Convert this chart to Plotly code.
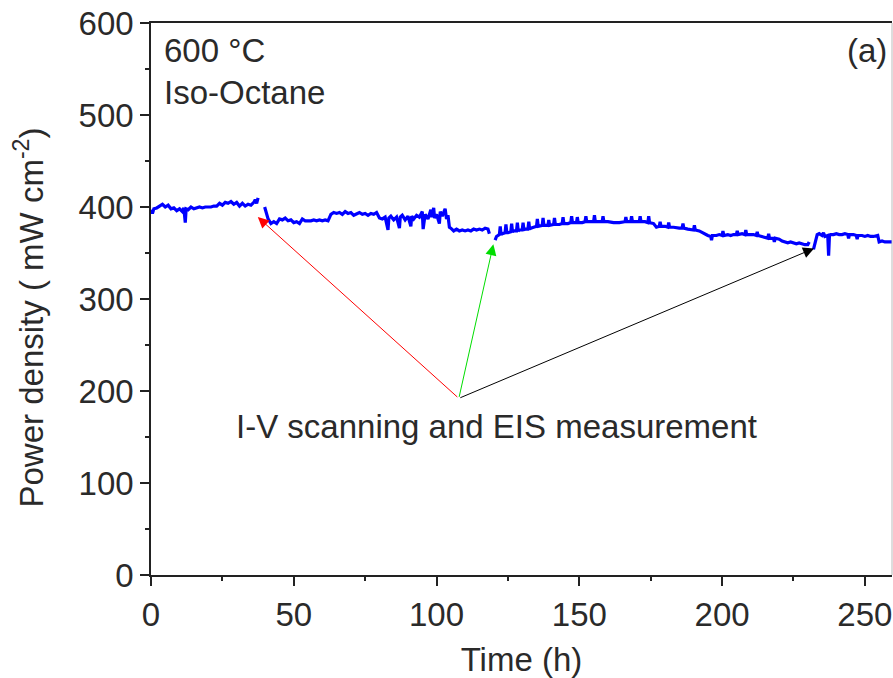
import plotly.graph_objects as go

# ---- data ----
time_h = [
    0, 0.5, 1, 2, 3, 4, 5, 6, 7, 8, 9, 10, 11, 11.5, 12, 12.3, 13, 14, 15, 16, 17, 18, 19, 20,
    21, 22, 23, 24, 25, 26, 27, 28, 29, 30, 31, 32, 33, 34, 35, 36, 36.5, 37, 37.5,
    None,
    39.8, 40.3, 41, 42, 43, 44, 45, 46, 47, 48, 49, 50, 51, 52, 53, 54, 55, 56, 57, 58, 59, 60,
    61, 62, 63, 64, 65, 66, 67, 68, 69, 70, 71, 72, 73, 74, 75, 76, 77, 78, 79, 80, 81, 82,
    83, 83.3, 84, 85, 86, 87, 87.3, 88, 89, 90, 91, 91.3, 92, 93, 94, 95, 95.3, 96, 97, 98, 98.3,
    99, 99.3, 100, 101, 101.3, 102, 103, 103.5, 104, 104.5, 105, 106, 107, 108, 109, 110, 111,
    112, 113, 114, 115, 116, 117, 118, 118.5,
    None,
    120.5, 121, 122, 122.3, 122.6, 123, 124, 124.3, 124.6, 125, 126, 126.3, 126.6, 127, 128,
    128.3, 128.6, 129, 130, 130.3, 130.6, 131, 132, 132.3, 132.6, 133, 134,
    135, 135.3, 135.6, 137, 137.3, 137.6, 139, 139.3, 139.6, 141, 141.3, 141.6, 143, 144, 144.3,
    144.6, 146, 147, 147.3, 147.6, 149, 149.3, 149.6, 151, 152, 152.3, 152.6,
    154, 155, 155.3, 155.6, 157, 158, 158.3, 158.6, 160, 162, 164, 166, 166.3, 166.6, 168, 168.3,
    168.6, 170, 171, 171.3, 171.6, 173, 174, 174.3, 174.6, 176,
    177, 178, 178.3, 178.6, 180, 181, 181.3, 181.6, 183, 185, 186, 186.3, 186.6, 188, 190, 190.3,
    190.6, 192, 193, 194,
    195, 196, 196.3, 196.6, 198, 199, 200, 200.3, 200.6, 202, 203, 204, 205, 205.3, 205.6, 207,
    208, 208.3, 208.6, 210, 211, 212, 212.3, 212.6, 214, 215, 216, 216.3, 216.6, 218, 218.3, 218.6,
    220, 221,
    222, 223, 224, 225, 226, 227, 228, 229, 230, 230.5,
    None,
    232, 232.5, 233.3, 234, 235, 235.5, 236, 237, 237.3, 237.6, 238, 239, 240, 241, 242, 243, 244,
    244.3, 244.6, 246, 247, 247.3, 247.6, 249, 250, 251, 252, 253, 254, 254.5, 255, 256, 257, 258,
    259.5,
]
power_density = [
    397, 393, 398, 399, 401, 403, 400, 402, 398, 399, 396, 398, 395, 399, 383, 398, 397, 400, 398,
    399, 400, 399, 400, 400, 400, 401, 401, 404, 402, 405, 404, 406, 403, 405, 401, 404, 401, 403,
    402, 405, 408, 404, 410,
    None,
    400, 395, 387, 382, 384, 382, 387, 386, 388, 385, 386, 383, 384, 382, 387, 385, 385, 385, 386,
    385, 386, 385, 386, 385, 392, 394, 393, 394, 392, 395, 393, 394, 391, 393, 394, 392, 393, 391,
    393, 392, 394, 388, 387, 389,
    375, 388, 390, 386, 389, 377, 389, 391, 386, 390, 379, 390, 387, 391, 389, 395, 376, 392, 387,
    397, 389, 399, 388, 392, 382, 395, 390, 398, 387, 391, 378, 377, 374, 376, 374, 375, 374, 375,
    374, 376, 375, 376, 375, 377, 376, 371,
    None,
    364, 368, 370, 379, 370, 371, 372, 381, 372, 372, 373, 382, 373, 374, 374, 383, 374, 375, 375,
    383, 375, 376, 376, 384, 376, 377, 378,
    379, 387, 379, 380, 388, 380, 380, 386, 380, 381, 388, 381, 381, 382, 389, 382, 382, 383, 390,
    383, 383, 389, 383, 383, 384, 390, 384,
    384, 384, 391, 384, 384, 384, 390, 384, 384, 383, 383, 384, 389, 384, 384, 390, 384, 384, 384,
    390, 384, 384, 383, 390, 383, 382,
    378, 379, 384, 379, 379, 378, 383, 378, 378, 377, 377, 382, 377, 376, 375, 380, 375, 374, 372,
    371,
    369, 368, 364, 369, 369, 370, 369, 374, 369, 370, 369, 370, 370, 374, 370, 371, 370, 375, 370,
    370, 370, 369, 373, 369, 368, 367, 366, 371, 366, 366, 362, 366, 365, 363,
    362, 361, 362, 361, 360, 361, 360, 359, 359, 362,
    None,
    354, 360, 370, 371, 369, 372, 368, 369, 347, 369, 370, 370, 371, 370, 370, 371, 370, 366, 370,
    370, 369, 365, 369, 369, 368, 369, 368, 368, 369, 369, 362, 363, 362, 362, 362,
]

# arrows: common tail and three tips (Time h, Power density)
arrow_tail = (107.8, 192)
arrow_tips_x = [37.4, 119.9, 232.2]
arrow_tips_y = [389, 359.5, 355]
arrow_colors = ["#ff0000", "#00dd00", "#000000"]

x_ticks = [0, 50, 100, 150, 200, 250]
y_ticks = [0, 100, 200, 300, 400, 500, 600]

FONT = "Liberation Sans, Arial, sans-serif"
FS = 33
TXT = "#2a2a2a"

fig = go.Figure()
fig.add_trace(go.Scatter(
    x=time_h, y=power_density, mode="lines",
    line=dict(color="#0000ff", width=3.2),
    connectgaps=False, showlegend=False, hoverinfo="skip",
))

annotations = []
for tx, ty, col in zip(arrow_tips_x, arrow_tips_y, arrow_colors):
    annotations.append(dict(
        x=tx, y=ty, ax=arrow_tail[0], ay=arrow_tail[1],
        xref="x", yref="y", axref="x", ayref="y",
        text="", showarrow=True, arrowhead=2, arrowsize=2.2, arrowwidth=1,
        arrowcolor=col, standoff=0, startstandoff=0,
    ))

annotations += [
    dict(text="600 °C", x=0.0145, y=0.951, xref="paper", yref="paper",
         xanchor="left", yanchor="middle", showarrow=False,
         font=dict(family=FONT, size=FS, color=TXT)),
    dict(text="Iso-Octane", x=0.0145, y=0.874, xref="paper", yref="paper",
         xanchor="left", yanchor="middle", showarrow=False,
         font=dict(family=FONT, size=FS, color=TXT)),
    dict(text="(a)", x=0.996, y=0.951, xref="paper", yref="paper",
         xanchor="right", yanchor="middle", showarrow=False,
         font=dict(family=FONT, size=FS, color=TXT)),
    dict(text="I-V scanning and EIS measurement", x=0.466, y=0.269, xref="paper", yref="paper",
         xanchor="center", yanchor="middle", showarrow=False,
         font=dict(family=FONT, size=FS, color=TXT)),
    dict(text="Power density ( mW cm<sup>-2</sup>)", x=-0.165, y=0.466,
         xref="paper", yref="paper", xanchor="center", yanchor="middle",
         textangle=-90, showarrow=False,
         font=dict(family=FONT, size=FS, color=TXT)),
]

fig.update_layout(
    width=893, height=678,
    margin=dict(l=151, r=1, t=23, b=103),
    paper_bgcolor="white", plot_bgcolor="white",
    font=dict(family=FONT, size=FS, color=TXT),
    annotations=annotations,
    shapes=[dict(type="line", xref="paper", yref="paper", x0=1, x1=1, y0=0, y1=1,
                 line=dict(color="#bbbbbb", width=1))],
)
fig.update_xaxes(
    range=[0, 259.5], tickvals=x_ticks, ticks="outside", ticklen=9, tickwidth=1.5,
    tickcolor="#222", showline=True, linecolor="#222", linewidth=1.5, mirror=True,
    showgrid=False, zeroline=False, ticklabelstandoff=1, automargin=False,
    minor=dict(dtick=25, ticks="outside", ticklen=4, tickwidth=1.5, tickcolor="#222", showgrid=False),
    title=dict(text="Time (h)", font=dict(family=FONT, size=FS, color=TXT), standoff=24),
    tickfont=dict(family=FONT, size=FS, color=TXT),
)
fig.update_yaxes(
    range=[0, 600], tickvals=y_ticks, ticks="outside", ticklen=9, tickwidth=1.5,
    tickcolor="#222", showline=True, linecolor="#222", linewidth=1.5, mirror=False,
    showgrid=False, zeroline=False, automargin=False,
    minor=dict(dtick=50, ticks="outside", ticklen=4, tickwidth=1.5, tickcolor="#222", showgrid=False),
    tickfont=dict(family=FONT, size=FS, color=TXT),
)

fig.write_html("out.html")
